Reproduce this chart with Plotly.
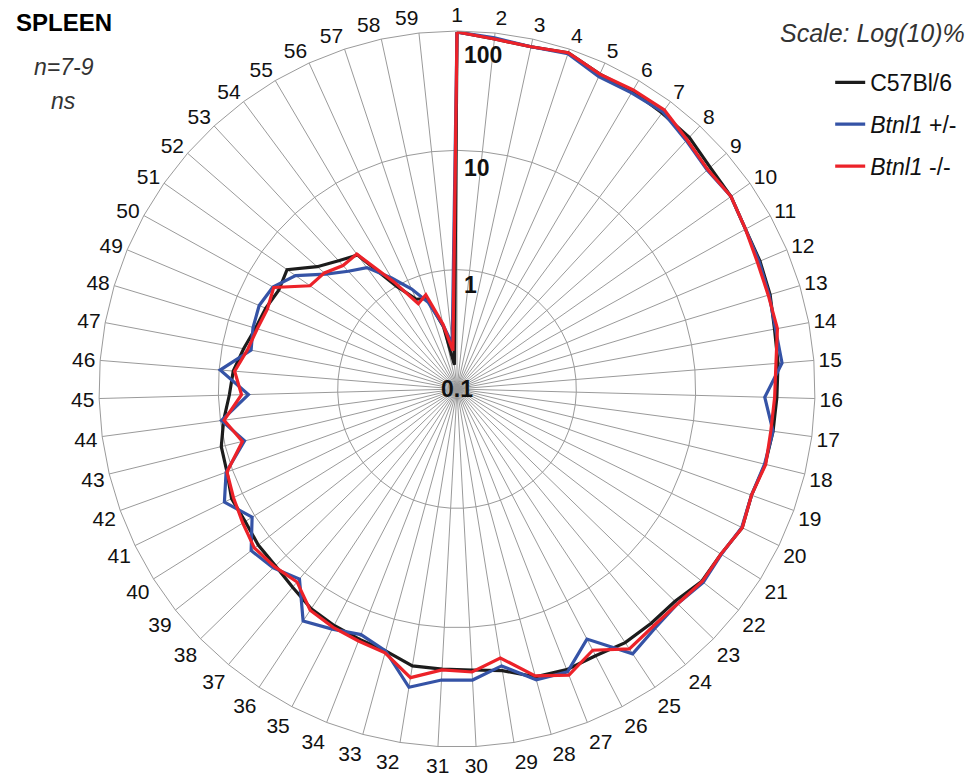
import math
import plotly.graph_objects as go

# Subset index 1..59 around the polar axis
categories = [str(i) for i in range(1, 60)]

# Percent of cells per subset (log scale), one list per genotype
c57bl6 = [98, 89, 86, 93, 79, 79, 76, 74, 66, 64,
          58, 57, 55, 51, 50, 48, 47, 45.5, 42, 45.5,
          40.6, 40.6, 35.5, 35.5, 35.5, 33, 33.5, 31.6, 24.6, 22.8,
          22.4, 22.4, 18.8, 17.8, 17.1, 16.2, 14.4, 13.3, 13.1, 12.4,
          12.6, 11.2, 10.8, 9.4, 8.1, 7.6, 6.6, 5.8, 5.5, 5.1,
          5.5, 3.6, 2.9, 2.5, 1.0, 0.67, 0.63, 0.34, 0.16]

btnl1_het = [98, 91, 86, 91, 75, 76, 78, 68, 61, 64,
             58, 56, 54, 52, 54, 38, 47, 45, 42, 45,
             41, 42, 38, 40, 46, 23, 35, 33.5, 22.4, 27.7,
             27.7, 34, 18.8, 16.2, 18.5, 21.5, 11.7, 14.1, 15.6, 10.6,
             14.7, 11.4, 6.8, 9.8, 5.6, 9.8, 5.7, 6.1, 6.3, 5.8,
             4.5, 2.9, 2.2, 1.85, 1.2, 0.83, 0.58, 0.35, 0.24]

btnl1_ko = [98, 89, 86, 93, 79, 81, 82, 69.5, 62, 64,
            58, 54, 53, 54, 48, 46, 45, 46, 42, 45.5,
            40.6, 41, 38, 38, 41, 29.3, 37.6, 31, 19.2, 23.7,
            22.8, 28.2, 19.6, 18.5, 17.8, 16.8, 12.6, 13.6, 14.4, 13.1,
            12.1, 11.2, 7.1, 9.3, 6.4, 7.4, 6.1, 5.6, 5.3, 5.7,
            3.2, 3.0, 2.56, 2.56, 1.1, 0.61, 0.68, 0.36, 0.21]

series_names = ["C57Bl/6", "<i>Btnl1</i> +/-", "<i>Btnl1</i> -/-"]
series_values = [c57bl6, btnl1_het, btnl1_ko]
series_colors = ["#1c1c1c", "#3553a6", "#ec2229"]

# Decade gridlines of the log radial axis
radial_ticks = [0.1, 1, 10, 100]
radial_labels = ["0.1", "1", "10", "100"]

FONT = "Liberation Sans, Arial"
W, H = 979, 780
cx, cy, R = 457, 389, 358
LOG_MIN, LOG_MAX = -1, 2

fig = go.Figure()

for i, (name, vals, col) in enumerate(zip(series_names, series_values, series_colors)):
    fig.add_trace(go.Scatterpolar(
        r=vals + vals[:1],
        theta=categories + categories[:1],
        mode="lines",
        name=name,
        legendgroup=f"g{i}",
        line=dict(color=col, width=3.2),
        cliponaxis=False,
    ))

anns = []

# Decade labels sit just right of the first spoke, under each ring
label_drop = {1: 15, 10: 18, 100: 24}
for t, lab in zip(radial_ticks, radial_labels):
    rr = (math.log10(t) - LOG_MIN) / (LOG_MAX - LOG_MIN) * R
    if t == 0.1:
        x, y, anchor = cx, cy, "center"
    else:
        x, y, anchor = cx + 5, cy - rr + label_drop[t], "left"
    anns.append(dict(text=f"<b>{lab}</b>", x=x / W, y=1 - y / H,
                     xref="paper", yref="paper",
                     xanchor=anchor, yanchor="middle", showarrow=False,
                     font=dict(family=FONT, size=23, color="#111111")))

corner = [
    ("<b>SPLEEN</b>", 64, 22, 24, "#000000"),
    ("<i>n=7-9</i>", 64, 67, 23, "#333333"),
    ("<i>ns</i>", 63, 101, 23, "#333333"),
    ("<i>Scale: Log(10)%</i>", 872, 33, 25, "#333333"),
]
for txt, x, y, s, c in corner:
    anns.append(dict(text=txt, x=x / W, y=1 - y / H, xref="paper", yref="paper",
                     xanchor="center", yanchor="middle", showarrow=False,
                     font=dict(family=FONT, size=s, color=c)))

fig.update_layout(
    width=W, height=H,
    margin=dict(l=0, r=0, t=0, b=0),
    paper_bgcolor="white",
    plot_bgcolor="white",
    font=dict(family=FONT, color="#111111"),
    polar=dict(
        domain=dict(x=[(cx - R) / W, (cx + R) / W],
                    y=[(H - cy - R) / H, (H - cy + R) / H]),
        bgcolor="white",
        gridshape="linear",
        radialaxis=dict(
            type="log",
            range=[LOG_MIN, LOG_MAX],
            tickvals=[1, 10, 100],
            showticklabels=False,
            ticks="",
            showline=False,
            gridcolor="#9a9a9a",
            gridwidth=1,
            angle=90,
        ),
        angularaxis=dict(
            type="category",
            categoryarray=categories,
            direction="clockwise",
            rotation=90,
            ticks="",
            showline=True,
            linecolor="#9a9a9a",
            linewidth=1,
            gridcolor="#9a9a9a",
            gridwidth=1,
            tickfont=dict(family=FONT, size=21, color="#111111"),
        ),
    ),
    legend=dict(
        x=0.848, y=0.922, xanchor="left", yanchor="top",
        font=dict(family=FONT, size=23, color="#111111"),
        bgcolor="rgba(0,0,0,0)",
        tracegroupgap=9,
        itemwidth=30,
    ),
    annotations=anns,
)

fig.write_html("out.html")
